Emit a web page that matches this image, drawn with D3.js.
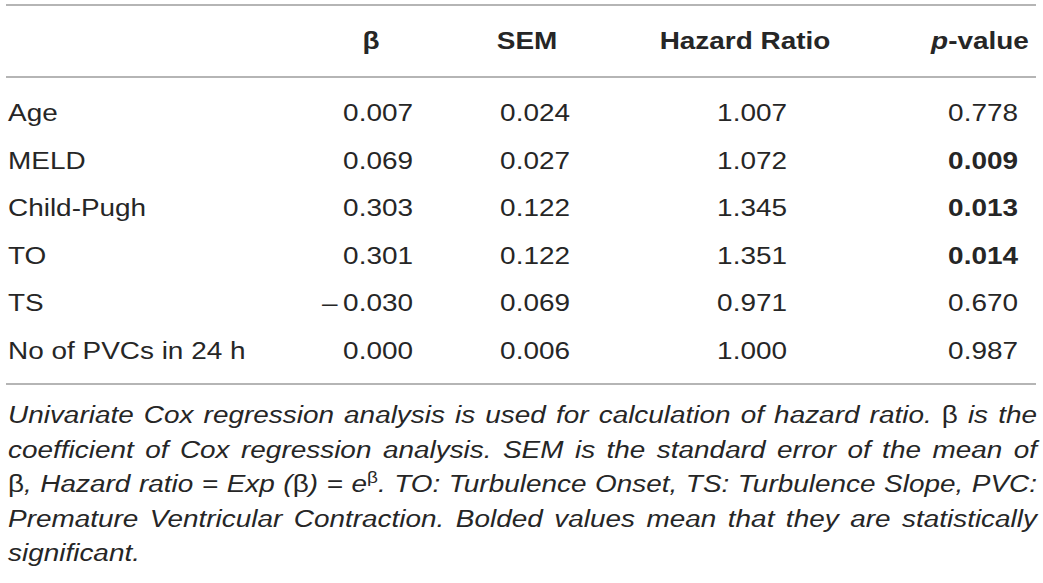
<!DOCTYPE html>
<html><head><meta charset="utf-8">
<script src="https://cdn.jsdelivr.net/npm/d3@7"></script>
<style>body{margin:0;background:#fff}svg{display:block}</style>
</head><body>
<svg id="c" width="1043" height="583"></svg>
<script>
// ---- data ----
const headers = ["β", "SEM", "Hazard Ratio", "p-value"];
const variables = ["Age", "MELD", "Child-Pugh", "TO", "TS", "No of PVCs in 24 h"];
const beta = [0.007, 0.069, 0.303, 0.301, -0.030, 0.000];
const sem = [0.024, 0.027, 0.122, 0.122, 0.069, 0.006];
const hazardRatio = [1.007, 1.072, 1.345, 1.351, 0.971, 1.000];
const pValues = [0.778, 0.009, 0.013, 0.014, 0.670, 0.987];
const significance = 0.05;
const footnoteLines = [
  "Univariate Cox regression analysis is used for calculation of hazard ratio. β is the",
  "coefficient of Cox regression analysis. SEM is the standard error of the mean of",
  "β, Hazard ratio = Exp (β) = e^β. TO: Turbulence Onset, TS: Turbulence Slope, PVC:",
  "Premature Ventricular Contraction. Bolded values mean that they are statistically",
  "significant."
];

// ---- layout ----
const svg = d3.select("#c");
const FONT = "'Liberation Sans', Arial, Helvetica, sans-serif";
const FS = 24.5, SX = 1.14, INK = "#262626";
const left = 7, right = 1036;

const y = d3.scalePoint().domain(variables).range([121, 358.5]);
const fmt = d3.format(".3f");

// rules
const rules = [5, 77, 384];
svg.selectAll("line.rule").data(rules).join("line")
  .attr("class", "rule")
  .attr("x1", left - 1).attr("x2", right)
  .attr("y1", d => d).attr("y2", d => d)
  .attr("stroke", "#9d9d9d").attr("stroke-width", 1.6);

function txt(x, yy, anchor) {
  return svg.append("text")
    .attr("transform", `translate(${x},${yy}) scale(${SX},1)`)
    .attr("text-anchor", anchor)
    .attr("font-family", FONT).attr("font-size", FS).attr("fill", INK);
}

// header
const headCenters = [371, 527, 745, 980];
headers.forEach((h, i) => {
  const t = txt(headCenters[i], 49, "middle").attr("font-weight", "bold");
  if (h.startsWith("p-")) {
    t.append("tspan").attr("font-style", "italic").text("p");
    t.append("tspan").text(h.slice(1));
  } else t.text(h);
});

// body
const colRights = [413, 570, 787, 1018];
const columns = [beta, sem, hazardRatio, pValues];
variables.forEach((v, r) => {
  txt(left + 1, y(v), "start").text(v);
  columns.forEach((col, c) => {
    const val = col[r];
    const t = txt(colRights[c], y(v), "end").text(fmt(val).replace("−", "–\u2009"));
    if (c === 3 && val < significance) t.attr("font-weight", "bold");
  });
});

// footnote (justified)
const footBase = 423, footLead = 34.5;
function buildWord(g, word) {
  const t = g.append("text")
    .attr("font-family", FONT).attr("font-size", FS).attr("fill", INK)
    .attr("font-style", "italic");
  let buf = "", i = 0, pendingDy = 0;
  const flush = () => {
    if (buf) {
      const s = t.append("tspan").text(buf);
      if (pendingDy) { s.attr("dy", pendingDy); pendingDy = 0; }
      buf = "";
    }
  };
  while (i < word.length) {
    const ch = word[i];
    if (ch === "^") {
      flush();
      t.append("tspan").attr("font-style", "normal").attr("font-size", FS * 0.68)
        .attr("dy", -9).text(word[i + 1]);
      pendingDy = 9;
      i += 2; continue;
    }
    if (ch === "β") {
      flush();
      const s = t.append("tspan").attr("font-style", "normal").text("β");
      if (pendingDy) { s.attr("dy", pendingDy); pendingDy = 0; }
      i++; continue;
    }
    buf += ch; i++;
  }
  flush();
  return t;
}
footnoteLines.forEach((line, li) => {
  const words = line.split(" ");
  const by = footBase + li * footLead;
  const items = words.map(w => {
    const t = buildWord(svg, w);
    return { t, w: t.node().getComputedTextLength() * SX };
  });
  const total = d3.sum(items, d => d.w);
  const last = li === footnoteLines.length - 1;
  const gap = last ? FS * 0.278 * SX : (right - left - total) / (items.length - 1);
  let x = left + 1;
  items.forEach(d => {
    d.t.attr("transform", `translate(${x},${by}) scale(${SX},1)`);
    x += d.w + gap;
  });
});
</script>
</body></html>
